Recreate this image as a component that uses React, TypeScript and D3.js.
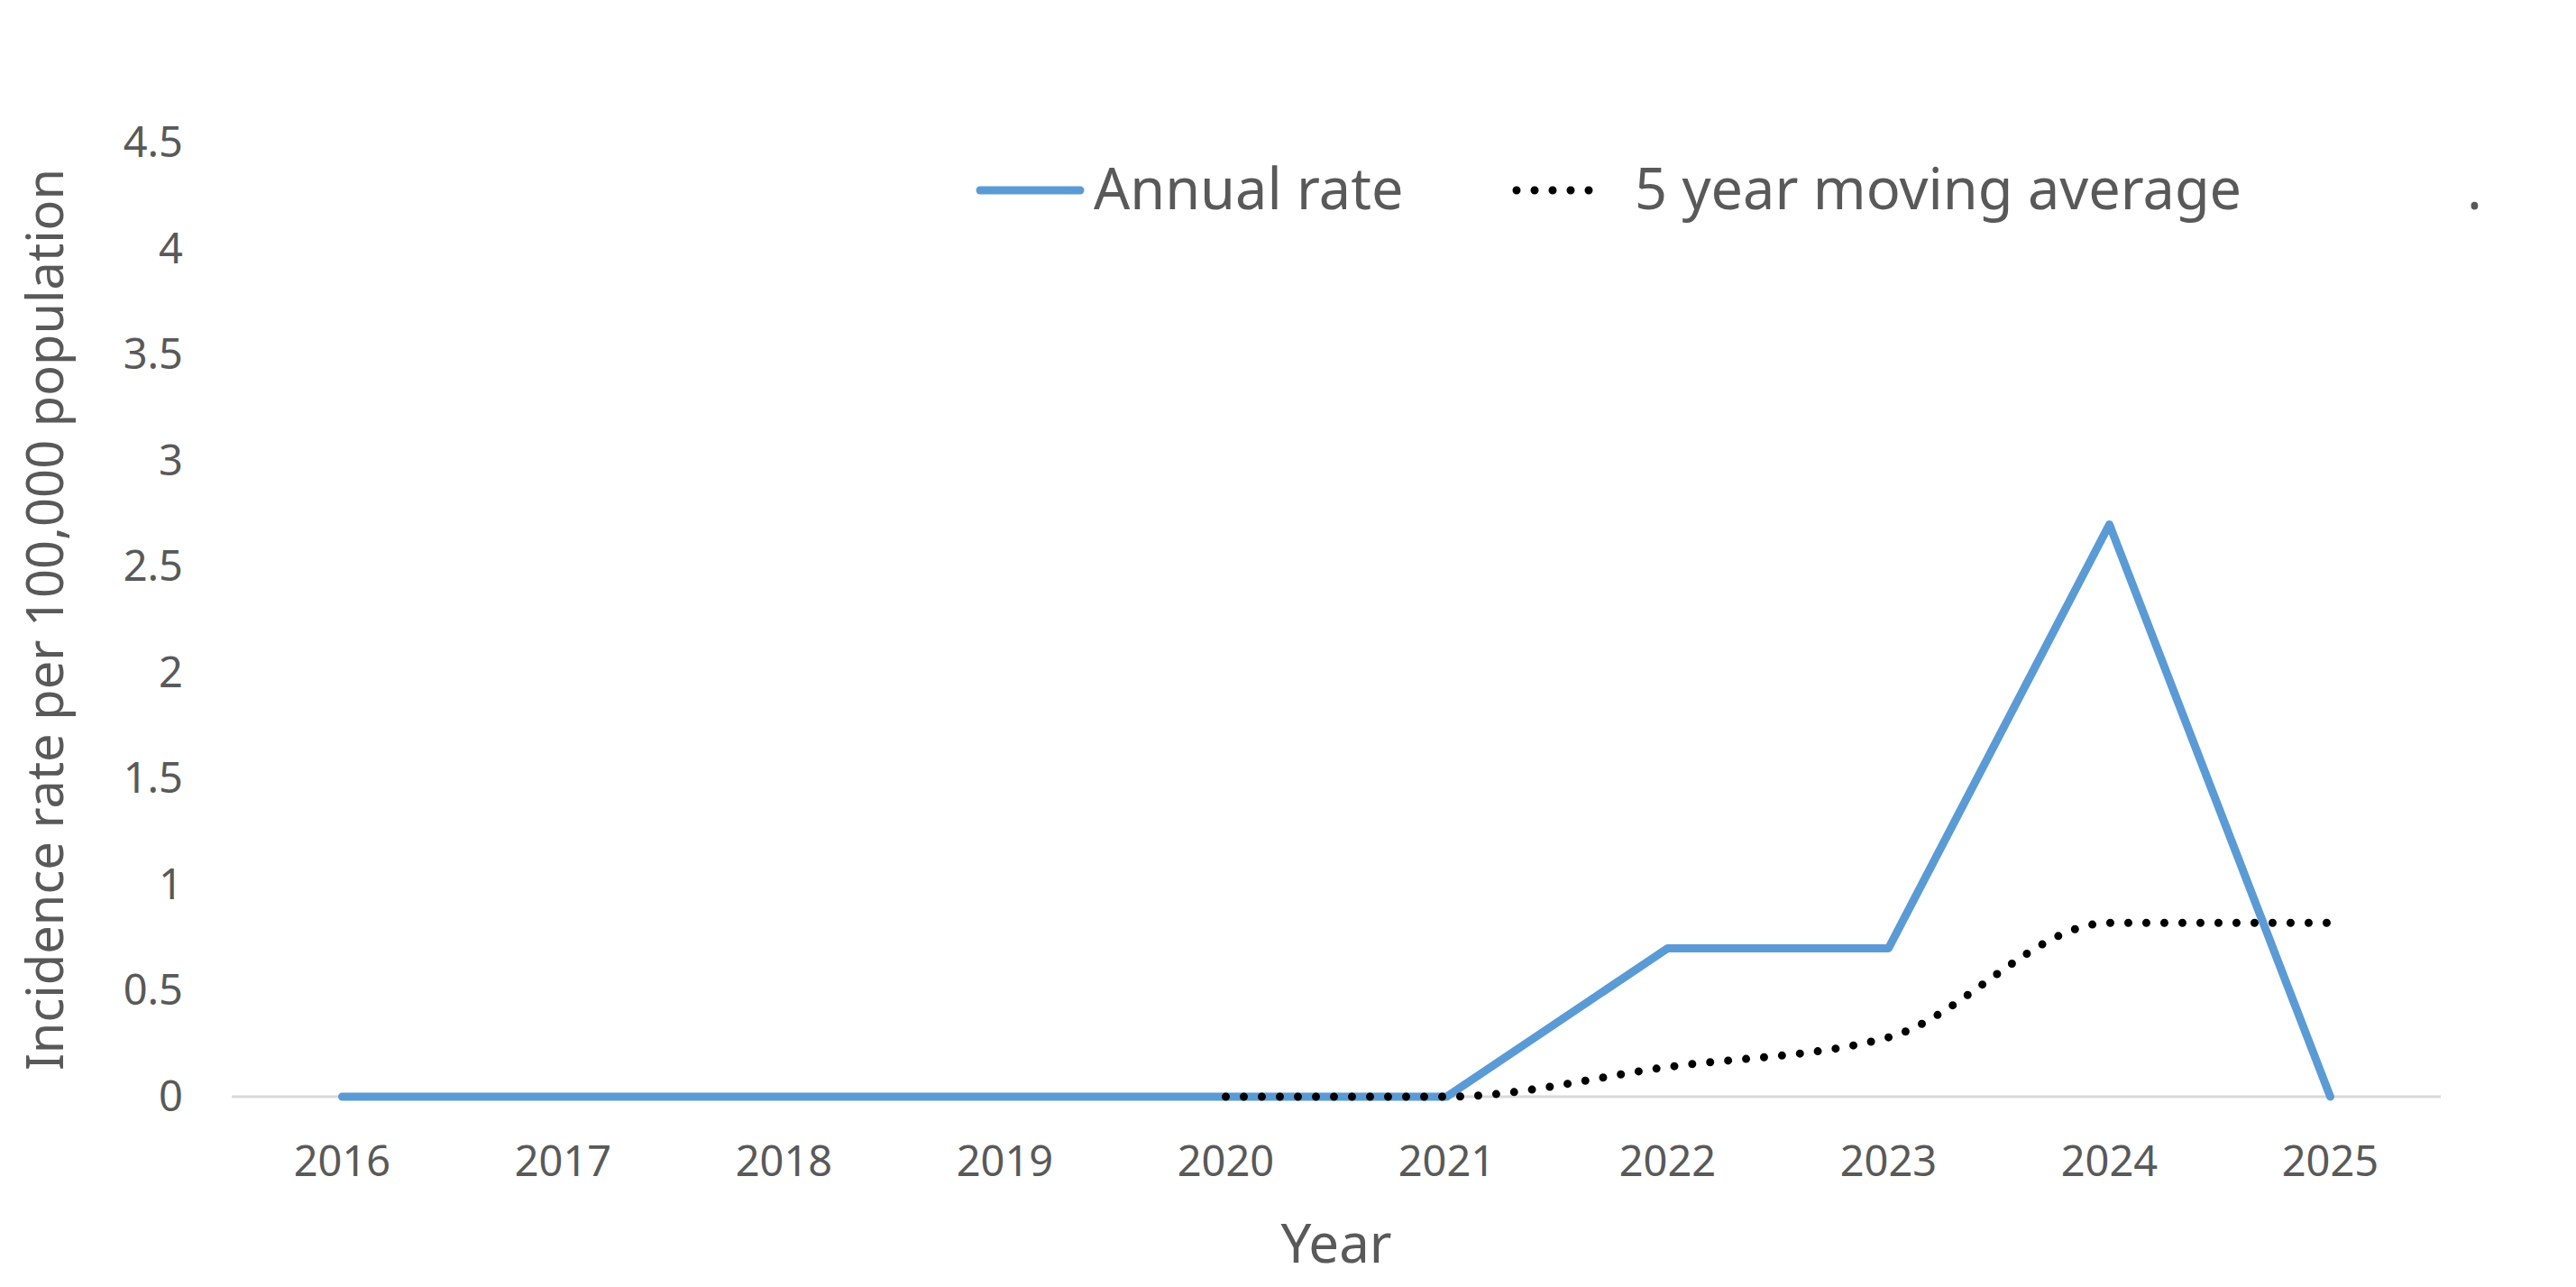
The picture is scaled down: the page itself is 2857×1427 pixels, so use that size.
import React, { useEffect, useRef } from 'react';
import * as d3 from 'd3';

const years = ['2016', '2017', '2018', '2019', '2020', '2021', '2022', '2023', '2024', '2025'];
const annualRate = [0, 0, 0, 0, 0, 0, 0.7, 0.7, 2.7, 0];
const avgYears = ['2020', '2021', '2022', '2023', '2024', '2025'];
const movingAvg = [0, 0, 0.14, 0.28, 0.82, 0.82];
const yTicks = [0, 0.5, 1, 1.5, 2, 2.5, 3, 3.5, 4, 4.5];
const legendLabels = ['Annual rate', '5 year moving average', '.'];

const W = 2857;
const H = 1427;
const blue = '#5B9BD5';
const textGrey = '#595959';
const font = '"Noto Sans", "Open Sans", sans-serif';

const App = () => {
  const svgRef = useRef(null);

  useEffect(() => {
    document.body.style.margin = '0';
    const svg = d3.select(svgRef.current);
    svg.selectAll('*').remove();

    const x = d3.scaleBand().domain(years).range([257, 2707]);
    const y = d3.scaleLinear().domain([0, 4.5]).range([1216, 158.5]);
    const cx = (d: string) => (x(d) as number) + x.bandwidth() / 2;

    // y tick labels
    const yAxis = svg.append('g')
      .attr('transform', 'translate(257,0)')
      .call(d3.axisLeft(y).tickValues(yTicks).tickSize(0).tickPadding(54).tickFormat((d: any) => String(d)));
    yAxis.select('.domain').remove();
    yAxis.selectAll('text')
      .attr('fill', textGrey)
      .style('font-family', font)
      .style('font-size', '47px');

    // baseline gridline
    svg.append('line')
      .attr('x1', 257).attr('x2', 2707)
      .attr('y1', y(0)).attr('y2', y(0))
      .attr('stroke', '#D9D9D9')
      .attr('stroke-width', 3);

    // x tick labels
    svg.append('g')
      .selectAll('text')
      .data(years)
      .enter().append('text')
      .attr('x', d => cx(d))
      .attr('y', 1304)
      .attr('text-anchor', 'middle')
      .attr('fill', textGrey)
      .style('font-family', font)
      .style('font-size', '47px')
      .text(d => d);

    // annual rate
    const annualLine = d3.line<number>()
      .x((d, i) => cx(years[i]))
      .y(d => y(d));
    svg.append('path')
      .attr('d', annualLine(annualRate))
      .attr('fill', 'none')
      .attr('stroke', blue)
      .attr('stroke-width', 9)
      .attr('stroke-linejoin', 'round')
      .attr('stroke-linecap', 'round');

    // 5 year moving average (smoothed, dotted)
    const avgLine = d3.line<number>()
      .x((d, i) => cx(avgYears[i]))
      .y(d => y(d))
      .curve(d3.curveMonotoneX);
    svg.append('path')
      .attr('d', avgLine(movingAvg))
      .attr('fill', 'none')
      .attr('stroke', '#000')
      .attr('stroke-width', 9)
      .attr('stroke-dasharray', '0 20')
      .attr('stroke-linecap', 'round');

    // axis titles
    svg.append('text')
      .attr('transform', 'translate(70,687) rotate(-90)')
      .attr('text-anchor', 'middle')
      .attr('fill', textGrey)
      .style('font-family', font)
      .style('font-size', '56px')
      .text('Incidence rate per 100,000 population');

    svg.append('text')
      .attr('x', 1482)
      .attr('y', 1400)
      .attr('text-anchor', 'middle')
      .attr('fill', textGrey)
      .style('font-family', font)
      .style('font-size', '60px')
      .text('Year');

    // legend
    const legend = svg.append('g');
    legend.append('line')
      .attr('x1', 1087).attr('x2', 1198)
      .attr('y1', 211).attr('y2', 211)
      .attr('stroke', blue)
      .attr('stroke-width', 9)
      .attr('stroke-linecap', 'round');
    legend.append('line')
      .attr('x1', 1682).attr('x2', 1782)
      .attr('y1', 211).attr('y2', 211)
      .attr('stroke', '#000')
      .attr('stroke-width', 9)
      .attr('stroke-dasharray', '0 20')
      .attr('stroke-linecap', 'round');
    const legendX = [1213, 1813, 2736];
    legend.selectAll('text')
      .data(legendLabels)
      .enter().append('text')
      .attr('x', (d, i) => legendX[i])
      .attr('y', 232)
      .attr('fill', textGrey)
      .style('font-family', font)
      .style('font-size', '63px')
      .text(d => d);
  }, []);

  return (
    <svg
      ref={svgRef}
      width={W}
      height={H}
      style={{ position: 'absolute', left: 0, top: 0, background: '#fff' }}
    />
  );
};

export default App;
